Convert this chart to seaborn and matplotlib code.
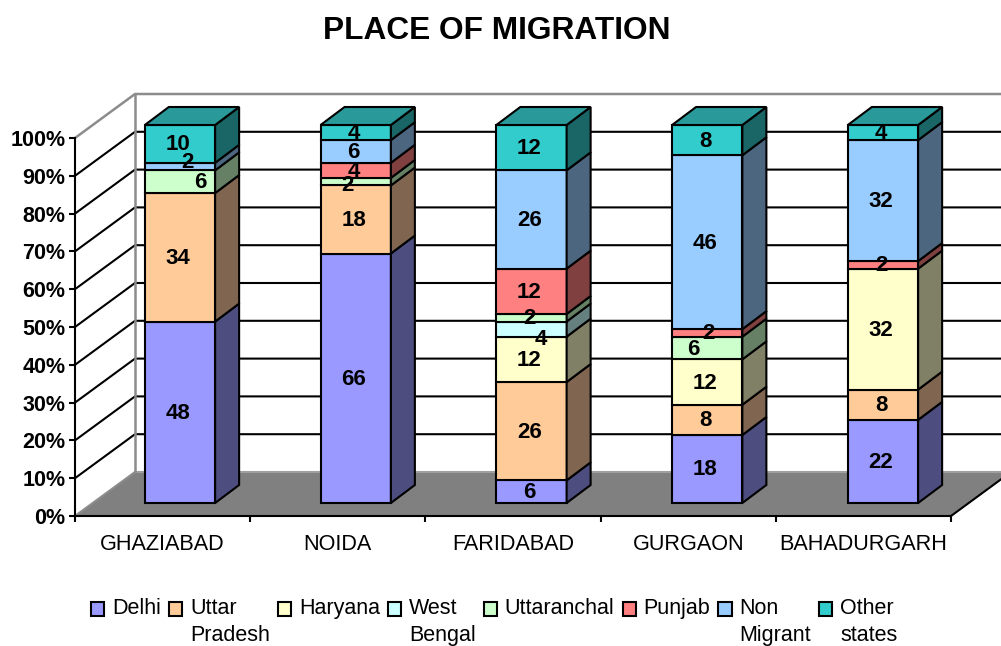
from matplotlib import pyplot as plt
from matplotlib.patches import Patch
import seaborn as sns
import pandas as pd

places = ['GHAZIABAD', 'NOIDA', 'FARIDABAD', 'GURGAON', 'BAHADURGARH']
series = ['Delhi', 'Uttar\nPradesh', 'Haryana', 'West\nBengal', 'Uttaranchal', 'Punjab', 'Non\nMigrant', 'Other\nstates']

delhi = [48, 66, 6, 18, 22]
uttar_pradesh = [34, 18, 26, 8, 8]
haryana = [0, 0, 12, 12, 32]
west_bengal = [0, 0, 4, 0, 0]
uttaranchal = [6, 2, 2, 6, 0]
punjab = [0, 4, 12, 2, 2]
non_migrant = [2, 6, 26, 46, 32]
other_states = [10, 4, 12, 8, 4]
all_values = [delhi, uttar_pradesh, haryana, west_bengal, uttaranchal, punjab, non_migrant, other_states]

front_colors = ['#9999FF', '#FFCC99', '#FFFFCC', '#CCFFFF', '#CCFFCC', '#FF8080', '#99CCFF', '#33CCCC']
side_colors = ['#4D4D80', '#806650', '#808066', '#668080', '#668066', '#804040', '#4D6680', '#1A6666']
top_color = '#299999'

# labels Excel had pushed off centre, pixels (place index, series index)
label_shift = {(0, 4): (22, 0), (0, 6): (9, 5), (1, 4): (-6, -3), (2, 3): (11, -9),
               (3, 4): (-12, 0), (3, 5): (3, 0)}

W, H = 1001, 646
LW = 1.5
plt.rcParams['savefig.dpi'] = 100
sns.set_theme(style='white')
plt.rcParams['font.family'] = ['Liberation Sans', 'DejaVu Sans']

fig = plt.figure(figsize=(W / 100, H / 100), dpi=100)

# front axis plane
ax = fig.add_axes([75 / W, (H - 516) / H, 876 / W, 378 / H])
ax.set_xlim(-0.5, 4.5)
ax.set_ylim(0, 100)
ax.patch.set_alpha(0)
cat_px = 876 / 5
pct_px = 378 / 100
back_dx = 60 / cat_px
back_dy = 44 / pct_px

xl, xr = -0.5, 4.5
# floor
ax.fill([xl, xr, xr + back_dx, xl + back_dx], [0, 0, back_dy, back_dy], color='#808080', lw=0, zorder=1, clip_on=False)
ax.plot([xr, xr + back_dx], [0, back_dy], color='black', lw=LW, zorder=2, clip_on=False)
ax.plot([xl, xl + back_dx], [0, back_dy], color='#8c8c8c', lw=LW, zorder=2, clip_on=False)
ax.plot([xl + back_dx, xr + back_dx], [back_dy, back_dy], color='#a0a0a0', lw=LW, zorder=2, clip_on=False)

# back wall lines
for v in range(10, 100, 10):
    ax.plot([xl, xl + back_dx, xr + back_dx], [v, v + back_dy, v + back_dy], color='black', lw=LW, zorder=2, clip_on=False)
ax.plot([xl, xl + back_dx, xr + back_dx], [100, 100 + back_dy, 100 + back_dy], color='#8c8c8c', lw=1.8, zorder=2, clip_on=False)
ax.plot([xl + back_dx, xl + back_dx], [back_dy, 100 + back_dy], color='#8c8c8c', lw=1.8, zorder=2, clip_on=False)

sns.despine(ax=ax)
ax.spines['left'].set_linewidth(LW)
ax.spines['left'].set_color('black')
ax.spines['bottom'].set_linewidth(LW)
ax.spines['bottom'].set_color('black')
ax.spines['left'].set_zorder(5)
ax.spines['bottom'].set_zorder(5)
ax.set_yticks(range(0, 101, 10))
ax.set_yticklabels([f'{v}%' for v in range(0, 101, 10)], fontsize=15.5, fontweight='bold', color='black')
ax.set_xticks([i - 0.5 for i in range(6)])
ax.set_xticklabels([])
ax.set_xticks(range(5), minor=True)
ax.set_xticklabels(places, minor=True, fontsize=15.6, color='black')
ax.tick_params(axis='both', which='major', length=4, width=LW, color='black', left=True, bottom=True)
ax.tick_params(axis='y', pad=3)
ax.tick_params(axis='x', which='minor', length=0, pad=13)

# bars sit a little behind the front plane
ax_bars = fig.add_axes([92.1 / W, (H - 503) / H, 878.75 / W, 378 / H])
ax_bars.patch.set_alpha(0)
bar_w = 0.4
bar_dx = 24 / (878.75 / 5)
bar_dy = 18 / pct_px

bottoms = [0] * 5
for s, vals in enumerate(all_values):
    df = pd.DataFrame({'place': places, 'value': vals, 'bottom': bottoms})
    df = df[df['value'] > 0]
    sns.barplot(data=df, x='place', y='value', order=places, bottom=df['bottom'].tolist(), color=front_colors[s],
                saturation=1, width=bar_w, edgecolor='black', linewidth=LW, errorbar=None, ax=ax_bars, zorder=3)
    for i, v in enumerate(vals):
        if v == 0:
            continue
        b = bottoms[i]
        x0 = i + bar_w / 2
        ax_bars.fill([x0, x0 + bar_dx, x0 + bar_dx, x0], [b, b + bar_dy, b + v + bar_dy, b + v],
                     facecolor=side_colors[s], edgecolor='black', lw=LW, zorder=3, clip_on=False)
        sx, sy = label_shift.get((i, s), (0, 0))
        ax_bars.annotate(str(v), (i, b + v / 2), xytext=((sx - 2) * 0.72, (sy - 1) * 0.72), textcoords='offset points',
                         ha='center', va='center', fontsize=16, fontweight='bold', color='black', zorder=6)
    bottoms = [b + v for b, v in zip(bottoms, vals)]

# top faces
for i in range(5):
    x0 = i - bar_w / 2
    x1 = i + bar_w / 2
    ax_bars.fill([x0, x1, x1 + bar_dx, x0 + bar_dx], [100, 100, 100 + bar_dy, 100 + bar_dy],
                 facecolor=top_color, edgecolor='black', lw=LW, zorder=3, clip_on=False)

for bar in ax_bars.patches:
    bar.set_clip_on(False)

ax_bars.set_xlim(-0.5, 4.5)
ax_bars.set_ylim(0, 100)
ax_bars.axis('off')

fig.text(497 / W, (H - 31) / H, 'PLACE OF MIGRATION', ha='center', va='center', fontsize=22.8, fontweight='bold', color='black')

handles = [Patch(facecolor=c, edgecolor='black', linewidth=LW) for c in front_colors]
labels = [s if '\n' in s else s + '\n ' for s in series]
leg = fig.legend(handles, labels, ncol=8, frameon=False, fontsize=15.5, loc='upper left',
                 bbox_to_anchor=(91 / W, (H - 598) / H), borderpad=0, borderaxespad=0,
                 handlelength=0.62, handleheight=0.62, handletextpad=0.36, columnspacing=0.37, labelcolor='black')
for t in leg.get_texts():
    t.set_linespacing(1.38)
# keep the swatch on the first line of its label
for p in leg.get_patches():
    p.set_y(p.get_y() + 10)

plt.savefig('out.png', dpi=100)
